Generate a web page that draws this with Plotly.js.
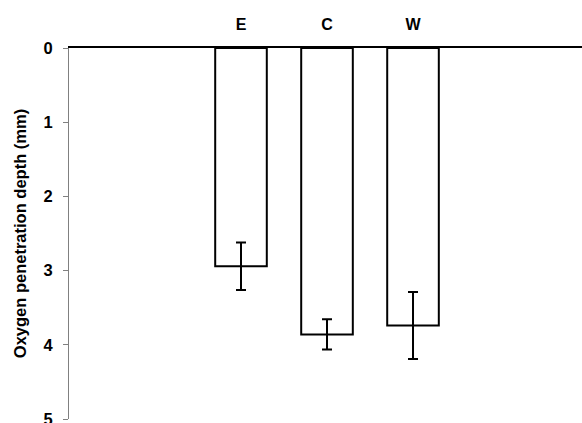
<!DOCTYPE html>
<html>
<head>
<meta charset="utf-8">
<script src="https://cdn.plot.ly/plotly-3.0.1.min.js"></script>
<style>
  html, body { margin: 0; padding: 0; background: #fff; }
  #chart { width: 582px; height: 423px; }
</style>
</head>
<body>
<div id="chart"></div>
<script>
const sites = ["E", "C", "W"];
const sitePos = [2, 3, 4];
const depth = [2.94, 3.86, 3.74];
const depthErr = [0.32, 0.205, 0.45];
const depthTicks = [0, 1, 2, 3, 4, 5];

Plotly.newPlot("chart", [{
  type: "bar",
  x: sitePos,
  y: depth,
  width: 0.6,
  marker: { color: "#ffffff", line: { color: "#000000", width: 2 } },
  error_y: { type: "data", array: depthErr, visible: true, color: "#000000", thickness: 2, width: 5 },
  hoverinfo: "none"
}], {
  width: 582,
  height: 423,
  margin: { l: 69, r: 0, t: 48, b: 4 },
  paper_bgcolor: "#ffffff",
  plot_bgcolor: "#ffffff",
  showlegend: false,
  font: { family: "Liberation Sans, Arial, sans-serif", color: "#000000" },
  xaxis: {
    range: [0, 5.965],
    side: "top",
    tickvals: sitePos,
    ticktext: sites,
    ticks: "",
    ticklabelstandoff: 10,
    tickfont: { size: 16, weight: "bold" },
    showgrid: false,
    zeroline: false,
    showline: true,
    linecolor: "#000000",
    linewidth: 1.5,
    automargin: false
  },
  yaxis: {
    range: [5, 0],
    tickvals: depthTicks,
    ticks: "outside",
    ticklen: 5,
    tickcolor: "#808080",
    tickfont: { size: 16.5, weight: "bold" },
    ticklabelstandoff: 7,
    ticklabeloverflow: "allow",
    showgrid: false,
    zeroline: false,
    showline: true,
    linecolor: "#808080",
    linewidth: 1,
    automargin: false,
    title: { text: "Oxygen penetration depth (mm)", font: { size: 16.5, weight: "bold" }, standoff: 12 }
  }
}, { displayModeBar: false, responsive: false });
</script>
</body>
</html>
